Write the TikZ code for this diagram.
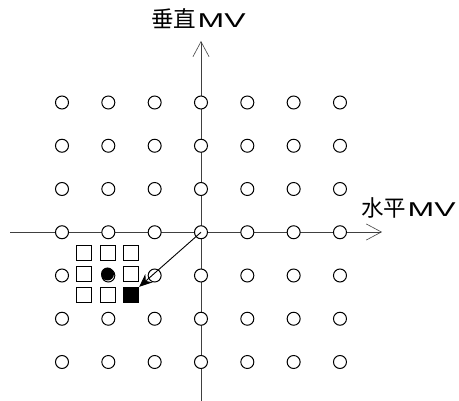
\documentclass[tikz,border=0pt]{standalone}
\usepackage{graphicx}
\usepackage{fontspec}
\setmainfont{Liberation Sans}
\newfontfamily\cjk{Noto Sans CJK SC}
\usetikzlibrary{arrows.meta}
% axis caption: CJK word followed by a wide "MV"
\newcommand{\axiscaption}[1]{{\cjk\fontsize{22.5}{26}\selectfont #1}\kern1.5pt{\fontsize{20}{24}\selectfont\scalebox{1.6}[1]{MV}}}
\begin{document}
\begin{tikzpicture}[x=1pt,y=-1pt,
  axis/.style={draw=black!75,line width=0.8pt,-{Straight Barb[length=15pt,width=16pt,line width=0.6pt]}},
  grid point/.style={circle,draw,line width=1pt,fill=white,minimum size=13pt,inner sep=0pt},
  search box/.style={rectangle,draw,line width=1pt,fill=white,minimum size=15pt,inner sep=0pt},
  best/.style={rectangle,fill=black,minimum size=16pt,inner sep=0pt},
  centre/.style={circle,fill=black,minimum size=13pt,inner sep=0pt},
  label/.style={inner sep=0pt,anchor=base west}]
\useasboundingbox (0,0) rectangle (459,401);
% axes
\coordinate (ytop) at (201,41);
\coordinate (ybot) at (201,401);
\coordinate (xleft) at (10,232);
\coordinate (xright) at (382,232);
\draw[axis] (ybot) -- (ytop);
\draw[axis] (xleft) -- (xright);
% integer motion vector grid
\foreach \i in {0,...,6}
  \foreach \j in {0,...,6}
    \node[grid point] (c-\i-\j) at ({62+46.33*\i},{102.5+43.25*\j}) {};
% sub-pixel search around the starting point
\node[centre] (p) at (107.5,274) {};
\foreach \dx/\dy/\n in {-24/-21/a,0/-21/b,23/-21/c,-24/0/d,23/0/e,-24/21/f,0/21/g}
  \node[search box] (s-\n) at ([shift={(\dx,\dy)}]p) {};
\node[best] (s-h) at (131,295) {};
% predicted vector
\draw[line width=0.9pt,-{Stealth[length=13pt,width=11pt]}] (c-3-3.center) -- (s-h.north east);
% labels
\node[label] (lv) at (151,27.5) {\axiscaption{垂直}};
\node[label] (lh) at (361,217) {\axiscaption{水平}};
\end{tikzpicture}
\end{document}
